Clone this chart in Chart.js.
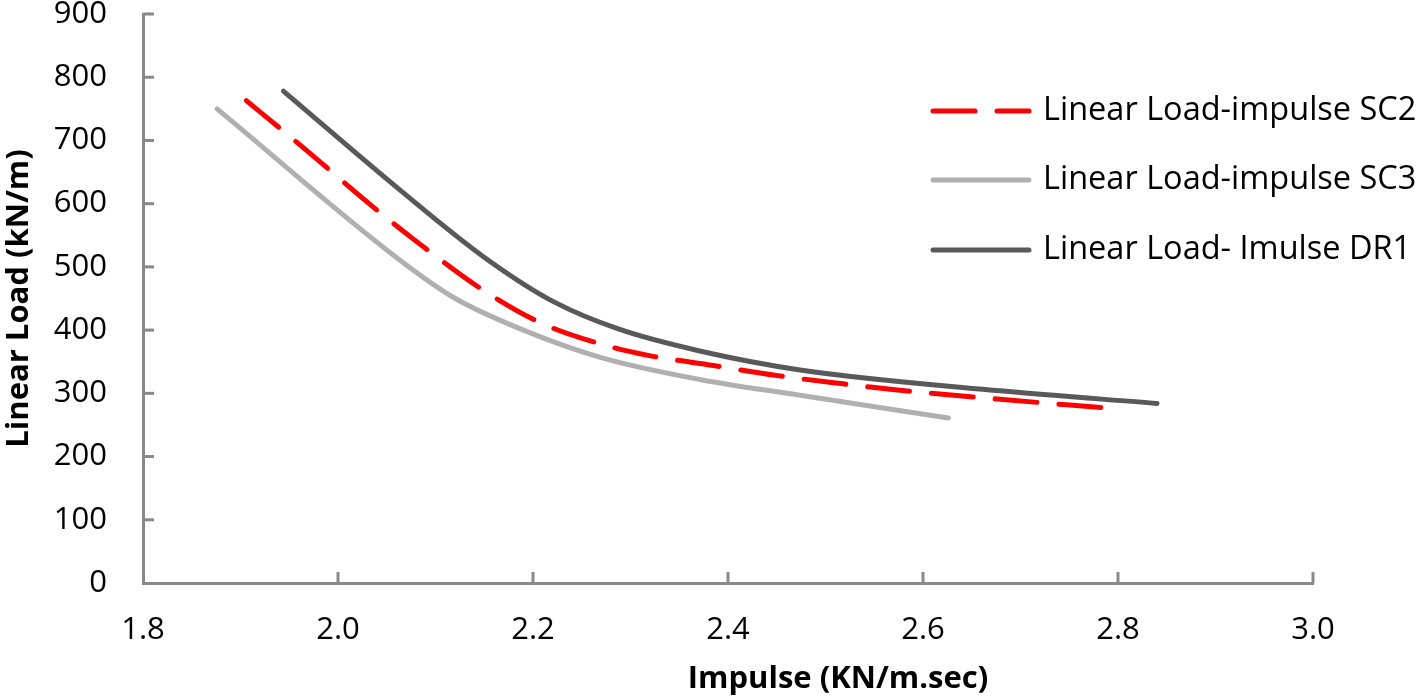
<!DOCTYPE html>
<html>
<head>
<meta charset="utf-8">
<script src="https://cdn.jsdelivr.net/npm/chart.js@4.4.0/dist/chart.umd.min.js"></script>
<style>
  html, body { margin: 0; padding: 0; background: #fff; }
  #wrap { width: 1418px; height: 697px; position: relative; }
</style>
</head>
<body>
<div id="wrap"><canvas id="c"></canvas></div>
<script>
// データ
const sc2X = [1.906, 1.961, 2.043, 2.084, 2.152, 2.210, 2.274, 2.318, 2.385, 2.451, 2.518, 2.569, 2.676, 2.786];
const sc2Y = [763, 693, 586, 536, 460, 410, 376, 360, 344, 328, 315, 306, 291, 277];
const sc3X = [1.876, 2.064, 2.118, 2.187, 2.269, 2.371, 2.474, 2.626];
const sc3Y = [750, 510, 452, 402, 357, 322, 297, 261];
const dr1X = [1.944, 2.064, 2.152, 2.221, 2.289, 2.371, 2.474, 2.679, 2.840];
const dr1Y = [778, 621, 513, 445, 401, 367, 337, 304, 284];

const xTickValues = [1.8, 2.0, 2.2, 2.4, 2.6, 2.8, 3.0];
const seriesLabels = ['Linear Load-impulse SC2', 'Linear Load-impulse SC3', 'Linear Load- Imulse DR1'];
const xTitle = 'Impulse (KN/m.sec)';
const yTitle = 'Linear Load (kN/m)';

const axisColor = '#898989';
const fontFamily = "'Open Sans', 'DejaVu Sans', sans-serif";

function toPoints(xs, ys) {
  return xs.map((x, i) => ({ x: x, y: ys[i] }));
}

// 内向きの目盛り・軸タイトル・凡例を描くプラグイン
const decorations = {
  id: 'decorations',
  afterDraw(chart) {
    const ctx = chart.ctx;
    const xs = chart.scales.x;
    const ys = chart.scales.y;
    const area = chart.chartArea;
    ctx.save();
    ctx.strokeStyle = axisColor;
    ctx.lineWidth = 3;
    xs.ticks.forEach(t => {
      const px = xs.getPixelForValue(t.value);
      if (Math.abs(px - area.left) < 2) return;
      ctx.beginPath();
      ctx.moveTo(px, area.bottom);
      ctx.lineTo(px, area.bottom - 11);
      ctx.stroke();
    });
    ys.ticks.forEach(t => {
      const py = ys.getPixelForValue(t.value);
      if (Math.abs(py - area.bottom) < 2) return;
      ctx.beginPath();
      ctx.moveTo(area.left, py);
      ctx.lineTo(area.left + 11, py);
      ctx.stroke();
    });

    // 軸タイトル
    ctx.fillStyle = '#000';
    ctx.font = "bold 31px " + fontFamily;
    ctx.textAlign = 'center';
    ctx.textBaseline = 'middle';
    ctx.fillText(xTitle, 838, 679);
    ctx.save();
    ctx.translate(19, (area.top + area.bottom) / 2);
    ctx.rotate(-Math.PI / 2);
    ctx.fillText(yTitle, 0, 0);
    ctx.restore();

    // 凡例
    const rowsY = [111, 180, 250];
    ctx.font = "32.5px " + fontFamily;
    ctx.textAlign = 'left';
    chart.data.datasets.forEach((ds, i) => {
      ctx.save();
      ctx.strokeStyle = ds.borderColor;
      ctx.lineWidth = ds.borderWidth;
      ctx.lineCap = 'round';
      ctx.setLineDash(ds.borderDash || []);
      ctx.beginPath();
      ctx.moveTo(933, rowsY[i]);
      ctx.lineTo(1029, rowsY[i]);
      ctx.stroke();
      ctx.restore();
      ctx.fillStyle = '#000';
      ctx.fillText(ds.label, 1043, rowsY[i]);
    });
    ctx.restore();
  }
};

new Chart(document.getElementById('c'), {
  type: 'line',
  data: {
    datasets: [
      {
        label: seriesLabels[0],
        data: toPoints(sc2X, sc2Y),
        borderColor: '#ff0000',
        borderWidth: 5,
        borderDash: [42, 22],
        borderCapStyle: 'round',
        cubicInterpolationMode: 'monotone',
        pointRadius: 0
      },
      {
        label: seriesLabels[1],
        data: toPoints(sc3X, sc3Y),
        borderColor: '#b0b0b0',
        borderWidth: 5,
        borderCapStyle: 'round',
        cubicInterpolationMode: 'monotone',
        pointRadius: 0
      },
      {
        label: seriesLabels[2],
        data: toPoints(dr1X, dr1Y),
        borderColor: '#595959',
        borderWidth: 5,
        borderCapStyle: 'round',
        cubicInterpolationMode: 'monotone',
        pointRadius: 0
      }
    ]
  },
  options: {
    responsive: true,
    maintainAspectRatio: false,
    animation: false,
    layout: { padding: { left: 0, right: 105, top: 14, bottom: 0 } },
    plugins: {
      legend: { display: false },
      tooltip: { enabled: false }
    },
    scales: {
      x: {
        type: 'linear',
        min: 1.8,
        max: 3.0,
        afterFit: s => {
          s.height = 114;
          s.paddingLeft = 0;
          s.paddingRight = 0;
        },
        afterBuildTicks: s => {
          s.ticks = xTickValues.map(v => ({ value: v }));
        },
        ticks: {
          color: '#000',
          font: { family: fontFamily, size: 31 },
          padding: 29,
          maxRotation: 0,
          callback: v => Number(v).toFixed(1)
        },
        grid: { drawOnChartArea: false, drawTicks: false },
        border: { display: true, color: axisColor, width: 3 }
      },
      y: {
        min: 0,
        max: 900,
        afterFit: s => {
          s.width = 143;
          s.paddingTop = 0;
          s.paddingBottom = 0;
        },
        ticks: {
          stepSize: 100,
          color: '#000',
          font: { family: fontFamily, size: 31 },
          padding: 36
        },
        grid: { drawOnChartArea: false, drawTicks: false },
        border: { display: true, color: axisColor, width: 3 }
      }
    }
  },
  plugins: [decorations]
});
</script>
</body>
</html>
